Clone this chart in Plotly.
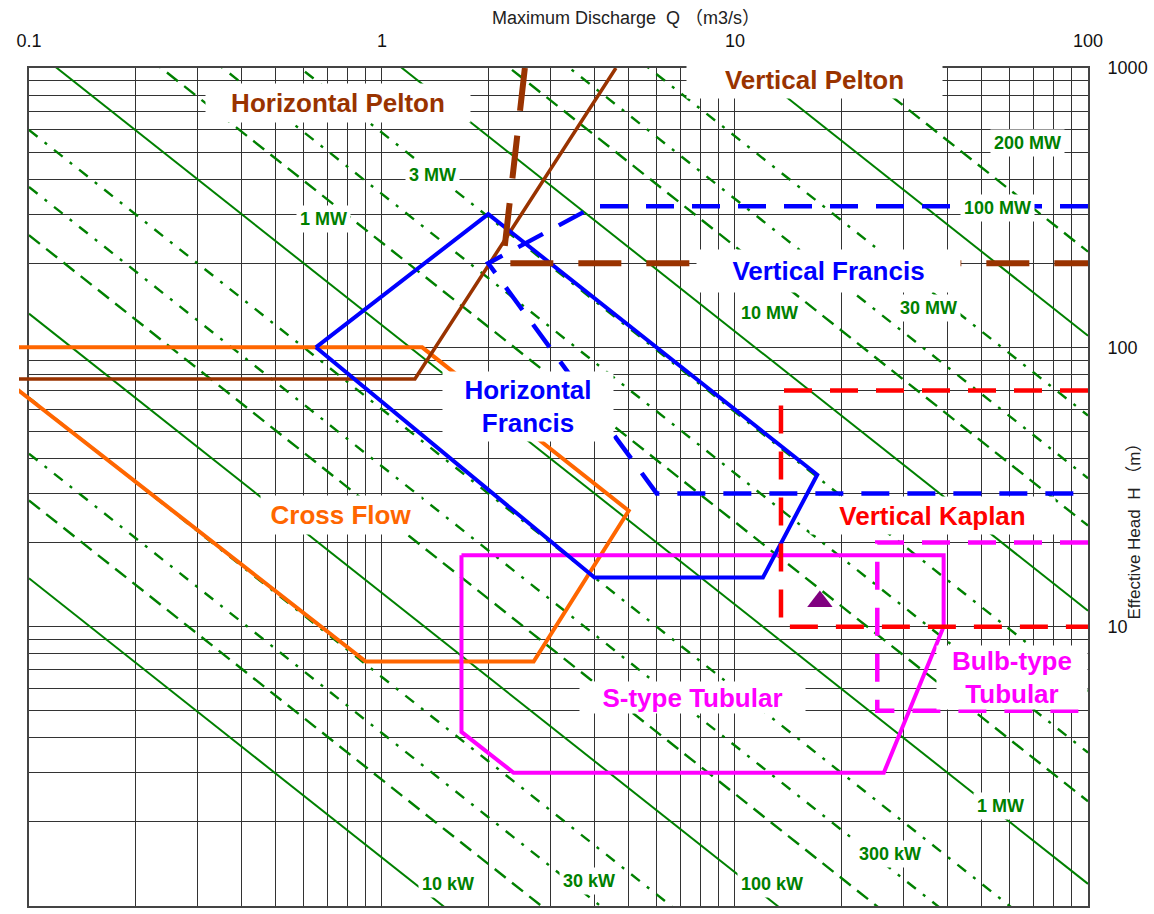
import numpy as np
import plotly.graph_objects as go

# ---------------- data ----------------
x_tick_values = [0.1, 1, 10, 100]
x_tick_labels = ["0.1", "1", "10", "100"]
y_tick_values = [1, 10, 100, 1000]
y_tick_labels = ["1", "10", "100", "1000"]

# constant-output lines: output (kW) and the Q*H product of each line
power_kw = [10, 20, 30, 50, 100, 200, 300, 500, 1000, 2000, 3000, 5000,
            10000, 20000, 30000, 50000, 100000, 200000]
power_qh = [1.49, 2.83, 4.16, 6.6, 13.2, 25.2, 37.5, 60, 120, 237, 354, 587,
            1140, 2300, 3400, 5700, 11000, 22000]

# turbine application ranges (Q in m3/s, H in m)
horizontal_pelton_q = [0.09, 1.24, 4.6]
horizontal_pelton_h = [77, 77, 1000]
vertical_pelton_q = [2.54, 2.2, 100]
vertical_pelton_h = [1000, 200, 200]
horizontal_francis_q = [0.65, 2.0, 17.1, 12.0, 4.0, 0.65]
horizontal_francis_h = [100, 300, 35, 15, 15, 100]
vertical_francis_q = [100, 4.0, 2.0, 6.0, 100]
vertical_francis_h = [320, 320, 200, 30, 30]
cross_flow_q = [0.09, 1.30, 5.0, 2.69, 0.9, 0.09]
cross_flow_h = [100, 100, 26, 7.5, 7.5, 72.8]
vertical_kaplan_q = [100, 13.5, 13.5, 100]
vertical_kaplan_h = [70, 70, 10, 10]
s_tubular_q = [1.68, 39, 39, 26.4, 2.36, 1.68, 1.68]
s_tubular_h = [18, 18, 10, 3, 3, 4.2, 18]
bulb_tubular_q = [100, 25.3, 25.3, 100]
bulb_tubular_h = [20, 20, 5, 5]
site_q = [17.4]
site_h = [12.3]

# ---------------- styles ----------------
GREEN = "#008000"
BROWN = "#993300"
BLUE = "#0000FF"
ORANGE = "#FF6600"
RED = "#FF0000"
MAGENTA = "#FF00FF"
FONT = "Liberation Sans, Arial, Noto Sans CJK JP"

fig = go.Figure()

def lead_digit(p):
    return int(str(p)[0])

dash_for = {1: "solid", 2: "14px,8px", 3: "11px,9px,3px,9px", 5: "11px,9px,3px,9px"}

for p, c in zip(power_kw, power_qh):
    d = lead_digit(p)
    fig.add_trace(go.Scatter(
        x=[0.1, 100], y=[c / 0.1, c / 100], mode="lines",
        line=dict(color=GREEN, width=2 if d == 1 else 2.4, dash=dash_for[d]),
        hoverinfo="skip", showlegend=False, xaxis="x", yaxis="y"))

def region(q, h, color, width, dash="solid"):
    fig.add_trace(go.Scatter(
        x=q, y=h, mode="lines",
        line=dict(color=color, width=width, dash=dash),
        hoverinfo="skip", showlegend=False, xaxis="x2", yaxis="y2"))

region(cross_flow_q, cross_flow_h, ORANGE, 4)
region(horizontal_pelton_q, horizontal_pelton_h, BROWN, 3.5)
region(s_tubular_q, s_tubular_h, MAGENTA, 4)
region(horizontal_francis_q, horizontal_francis_h, BLUE, 4)
region(vertical_pelton_q, vertical_pelton_h, BROWN, 6, "43px,25px")
region(vertical_francis_q, vertical_francis_h, BLUE, 4.5, "28px,18px")
region(vertical_kaplan_q, vertical_kaplan_h, RED, 4.5, "28px,18px")
region(bulb_tubular_q, bulb_tubular_h, MAGENTA, 4.5, "28px,18px")

fig.add_trace(go.Scatter(
    x=site_q, y=site_h, mode="markers",
    marker=dict(symbol="triangle-up", size=22, color="#800080"),
    hoverinfo="skip", showlegend=False, xaxis="x2", yaxis="y2"))

# ---------------- labels ----------------
def label(q, h, text, color, size, w=None, hgt=None, pad=3):
    kw = {}
    if w is not None:
        kw["width"] = w
    if hgt is not None:
        kw["height"] = hgt
    fig.add_annotation(
        x=np.log10(q), y=np.log10(h), xref="x", yref="y", text=f"<b>{text}</b>",
        showarrow=False, bgcolor="white", borderpad=pad,
        xanchor="center", yanchor="middle",
        font=dict(family=FONT, size=size, color=color), **kw)

label(0.752, 750, "Horizontal Pelton", BROWN, 26, 264, 38, 0)
label(16.8, 906, "Vertical Pelton", BROWN, 26, 255, 36, 0)
label(18.4, 187, "Vertical Francis", BLUE, 26, 263, 42, 0)
label(2.60, 61.5, "Horizontal<br>Francis", BLUE, 26, 170, 69, 0)
label(0.767, 25.1, "Cross Flow", ORANGE, 26, 160, 38, 0)
label(36.2, 25.1, "Vertical Kaplan", RED, 26, 245, 37, 0)
label(7.6, 5.58, "S-type Tubular", MAGENTA, 26, 225, 31, 0)
label(61, 6.6, "Bulb-type<br>Tubular", MAGENTA, 26, 150, 63, 0)

green_labels = [
    (0.683, 289, "1 MW"), (1.39, 415, "3 MW"), (12.5, 133, "10 MW"),
    (35.3, 138, "30 MW"), (55.5, 316, "100 MW"), (67.4, 540, "200 MW"),
    (1.54, 1.20, "10 kW"), (3.87, 1.23, "30 kW"), (12.7, 1.20, "100 kW"),
    (27.4, 1.53, "300 kW"), (56.6, 2.28, "1 MW"),
]
for q, h, t in green_labels:
    label(q, h, t, GREEN, 18, pad=3)

# axis titles
fig.add_annotation(x=612 / 1077, y=(908 - 18) / 840, xref="paper", yref="paper",
                   xanchor="center", yanchor="middle",
                   text="Maximum Discharge  Q （m3/s）", showarrow=False,
                   font=dict(family=FONT, size=18, color="#222"))
fig.add_annotation(x=1124 / 1077, y=(908 - 528) / 840, xref="paper", yref="paper",
                   xanchor="center", yanchor="middle",
                   text="Effective Head  H （m）", showarrow=False, textangle=-90,
                   font=dict(family=FONT, size=17, color="#222"))

# ---------------- axes ----------------
grid_x = [m * 10.0 ** k for k in (-1, 0, 1) for m in range(1, 10)] + [100]
grid_y = [m * 10.0 ** k for k in (0, 1, 2) for m in range(1, 10)] + [1000]
grid_x_text = [x_tick_labels[x_tick_values.index(v)] if v in x_tick_values else "" for v in
               [round(g, 6) for g in grid_x]]
grid_y_text = [y_tick_labels[y_tick_values.index(v)] if v in y_tick_values else "" for v in
               [round(g, 6) for g in grid_y]]

axis_common = dict(type="log", showgrid=True, gridcolor="#333", gridwidth=1,
                   showline=True, linecolor="#444", linewidth=2, mirror=True,
                   ticks="", zeroline=False,
                   tickfont=dict(family=FONT, size=18, color="#111"))

fig.update_layout(
    width=1154, height=914,
    margin=dict(l=13, r=64, t=68, b=6),
    paper_bgcolor="white", plot_bgcolor="rgba(0,0,0,0)",
    showlegend=False,
    xaxis=dict(range=[-1, 2], domain=[10 / 1077, 1], side="top", anchor="y",
               tickvals=grid_x, ticktext=grid_x_text, ticklabelstandoff=12,
               **axis_common),
    yaxis=dict(range=[0, 3], domain=[0, 1], side="right", anchor="x",
               tickvals=grid_y, ticktext=grid_y_text, ticklabelstandoff=14,
               **axis_common),
    xaxis2=dict(type="log", range=[-1 - 10 / 356, 2], domain=[0, 1], anchor="y2",
                visible=False, showgrid=False),
    yaxis2=dict(type="log", range=[0, 3], domain=[0, 1], anchor="x2",
                visible=False, showgrid=False),
)

fig.write_html("out.html")
